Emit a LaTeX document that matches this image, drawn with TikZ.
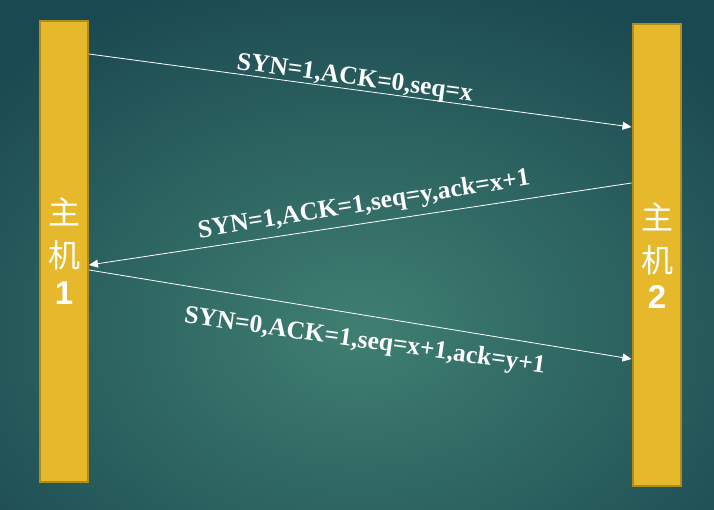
\documentclass[tikz,border=0pt]{standalone}
\usepackage{fontspec}
\setmainfont{Liberation Serif}
\newfontfamily\cjkfont{Noto Sans CJK SC}
\newfontfamily\numfont{Liberation Sans}
\usetikzlibrary{arrows.meta}
\definecolor{bgin}{HTML}{3F7F71}
\definecolor{bgout}{HTML}{1B4951}
\definecolor{barfill}{HTML}{E6B82B}
\definecolor{barline}{HTML}{B08C1F}
\tikzset{
  hostbar/.style={draw=barline, line width=2pt, fill=barfill, minimum width=48pt, inner sep=0pt},
  hostname/.style={text=white, inner sep=0pt, font=\fontsize{32}{32}\selectfont\cjkfont},
  hostnum/.style={text=white, inner sep=0pt, font=\fontsize{33}{33}\selectfont\numfont\bfseries},
  msg/.style={white, line width=0.8pt, -{Triangle[length=9pt,width=8pt]}},
  msglabel/.style={text=white, inner sep=0pt, anchor=base, font=\fontsize{25.5}{25.5}\selectfont\bfseries}
}

\begin{document}
\begin{tikzpicture}[x=1pt,y=-1pt]
%%%%% START %%%%%
\useasboundingbox (0,0) rectangle (714,510);
\begin{scope}
\clip (0,0) rectangle (714,510);
\fill[bgout] (0,0) rectangle (714,510);
\shade[inner color=bgin, outer color=bgout] (-140,-40) rectangle (860,700);
\end{scope}

\node[hostbar, minimum height=461pt] (host1) at (64,251.5) {};
\node[hostbar, minimum height=462pt] (host2) at (656.5,255) {};

\node[hostname] (zhu1) at (64,212) {主};
\node[hostname] (ji1) at (64,255) {机};
\node[hostnum] (num1) at (64,293) {1};

\node[hostname] (zhu2) at (657,217) {主};
\node[hostname] (ji2) at (657,260) {机};
\node[hostnum] (num2) at (657,297) {2};

\coordinate (out1) at (0,54);
\coordinate (in1) at (0,127);
\coordinate (out2) at (0,183);
\coordinate (in2) at (0,265);
\coordinate (out3) at (0,270);
\coordinate (in3) at (0,359);

\draw[msg] (host1.east |- out1) -- (host2.west |- in1);
\draw[msg] (host2.west |- out2) -- (host1.east |- in2);
\draw[msg] (host1.east |- out3) -- (host2.west |- in3);

\node[msglabel, rotate=-7.7] (syn1) at (354,85) {SYN=1,ACK=0,seq=x};
\node[msglabel, rotate=9.1] (syn2) at (365,211.5) {SYN=1,ACK=1,seq=y,ack=x+1};
\node[msglabel, rotate=-7.9] (syn3) at (364,348) {SYN=0,ACK=1,seq=x+1,ack=y+1};
%%%%% END %%%%%
\end{tikzpicture}
\end{document}
